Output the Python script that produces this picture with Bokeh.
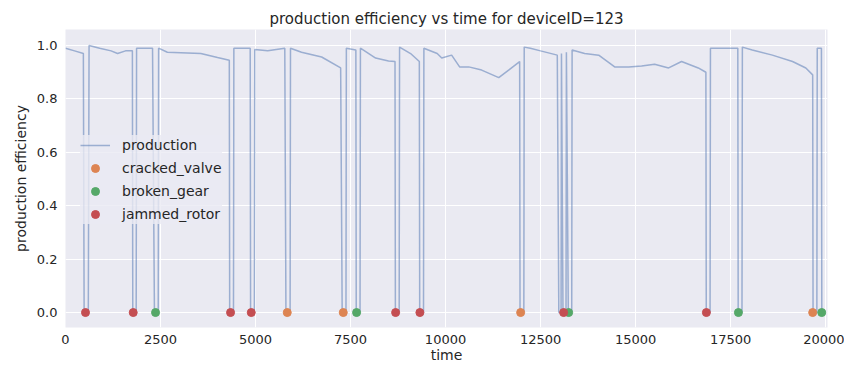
from bokeh.plotting import figure
from bokeh.models import Range1d, FixedTicker, PrintfTickFormatter, Legend, LegendItem
from bokeh.embed import file_html
from bokeh.resources import INLINE

# ---- data ----
prod_time = [
    0, 240, 470, 490, 600, 620, 900, 1200, 1370, 1580, 1760, 1770, 1860, 1870,
    2290, 2340, 2440, 2450, 2680, 3560, 4000, 4310, 4320, 4420, 4430, 4860,
    4870, 4970, 4980, 5320, 5770, 5800, 5910, 5920, 6210, 6740, 7240, 7280,
    7380, 7390, 7640, 7650, 7750, 7760, 8160, 8500, 8670, 8680, 8780, 8790,
    9080, 9310, 9320, 9420, 9430, 9780, 9900, 10160, 10370, 10610, 10950,
    11400, 11660, 11950, 11960, 12060, 12070, 12230, 12500, 12940, 12980,
    13040, 13050, 13090, 13170, 13180, 13230, 13320, 13330, 13660, 14030,
    14450, 14820, 15160, 15500, 15870, 16210, 16650, 16850, 16860, 16960,
    16970, 17620, 17690, 17700, 17800, 17810, 18070, 18600, 19130, 19480,
    19660, 19670, 19770, 19780, 19890, 19900, 20000,
]
prod_value = [
    0.99, 0.98, 0.97, 0.0, 0.0, 1.00, 0.99, 0.98, 0.97, 0.98, 0.98, 0.0, 0.0, 0.99,
    0.99, 0.0, 0.0, 0.99, 0.975, 0.97, 0.955, 0.945, 0.0, 0.0, 0.99, 0.99,
    0.0, 0.0, 0.985, 0.98, 0.99, 0.0, 0.0, 0.99, 0.975, 0.957, 0.916, 0.0,
    0.0, 0.99, 0.983, 0.0, 0.0, 0.99, 0.953, 0.942, 0.94, 0.0, 0.0, 0.994,
    0.97, 0.94, 0.0, 0.0, 0.99, 0.97, 0.953, 0.964, 0.92, 0.92, 0.908,
    0.88, 0.908, 0.94, 0.0, 0.0, 0.994, 0.99, 0.98, 0.964, 0.0,
    0.0, 0.97, 0.0, 0.0, 0.975, 0.0, 0.0, 0.983, 0.97, 0.964,
    0.92, 0.92, 0.923, 0.93, 0.916, 0.94, 0.916, 0.90, 0.0, 0.0,
    0.99, 0.99, 0.99, 0.0, 0.0, 0.994, 0.983, 0.964, 0.94, 0.916,
    0.89, 0.0, 0.0, 0.99, 0.99, 0.0, 0.0,
]

cracked_valve_time = [5835, 7309, 11976, 19660]
cracked_valve_value = [0, 0, 0, 0]
broken_gear_time = [2369, 7659, 13239, 17706, 19898]
broken_gear_value = [0, 0, 0, 0, 0]
jammed_rotor_time = [526, 1782, 4343, 4888, 8686, 9325, 13107, 16863]
jammed_rotor_value = [0, 0, 0, 0, 0, 0, 0, 0]

x_ticks = [0, 2500, 5000, 7500, 10000, 12500, 15000, 17500, 20000]
y_ticks = [0.0, 0.2, 0.4, 0.6, 0.8, 1.0]

title_text = "production efficiency vs time for deviceID=123"
x_label = "time"
y_label = "production efficiency"

# ---- figure ----
FONT = "DejaVu Sans"
TXT = "#262626"

p = figure(width=844, height=365, output_backend="svg", toolbar_location=None,
           x_range=Range1d(0, 20050), y_range=Range1d(-0.056, 1.06),
           min_border_left=65, min_border_right=17, min_border_top=29,
           min_border_bottom=37)

p.background_fill_color = "#EAEAF2"
p.border_fill_color = "white"
p.outline_line_color = None

p.title.text = title_text
p.title.align = "center"
p.title.text_font = FONT
p.title.text_font_size = "15px"
p.title.text_font_style = "normal"
p.title.text_color = TXT
p.title.standoff = 4

for ax in (p.xaxis[0], p.yaxis[0]):
    ax.axis_line_color = None
    ax.major_tick_line_color = None
    ax.minor_tick_line_color = None
    ax.major_tick_out = 0
    ax.major_tick_in = 0
    ax.major_label_text_font = FONT
    ax.major_label_text_font_size = "13px"
    ax.major_label_text_color = TXT
    ax.axis_label_text_font = FONT
    ax.axis_label_text_font_size = "14px"
    ax.axis_label_text_font_style = "normal"
    ax.axis_label_text_color = TXT

p.xaxis[0].ticker = FixedTicker(ticks=x_ticks)
p.xaxis[0].formatter = PrintfTickFormatter(format="%d")
p.xaxis[0].axis_label = x_label
p.xaxis[0].major_label_standoff = 7
p.xaxis[0].axis_label_standoff = 0

p.yaxis[0].ticker = FixedTicker(ticks=y_ticks)
p.yaxis[0].formatter = PrintfTickFormatter(format="%.1f")
p.yaxis[0].axis_label = y_label
p.yaxis[0].major_label_standoff = 8
p.yaxis[0].axis_label_standoff = 5

p.xgrid.grid_line_color = "white"
p.ygrid.grid_line_color = "white"
p.xgrid.grid_line_width = 1
p.ygrid.grid_line_width = 1

r_prod = p.line(prod_time, prod_value, line_color="#4C72B0", line_width=1.5,
                line_alpha=0.5)
r_cv = p.scatter(cracked_valve_time, cracked_valve_value, size=8,
                 fill_color="#DD8452", line_color="#DD8452")
r_bg = p.scatter(broken_gear_time, broken_gear_value, size=8,
                 fill_color="#55A868", line_color="#55A868")
r_jr = p.scatter(jammed_rotor_time, jammed_rotor_value, size=8,
                 fill_color="#C44E52", line_color="#C44E52")

legend = Legend(items=[
    LegendItem(label="production", renderers=[r_prod]),
    LegendItem(label="cracked_valve", renderers=[r_cv]),
    LegendItem(label="broken_gear", renderers=[r_bg]),
    LegendItem(label="jammed_rotor", renderers=[r_jr]),
], location=(15, 103))
legend.background_fill_color = "#EAEAF2"
legend.background_fill_alpha = 0.8
legend.border_line_color = None
legend.label_text_font = FONT
legend.label_text_font_size = "14px"
legend.label_text_color = TXT
legend.glyph_width = 30
legend.glyph_height = 20
legend.label_height = 20
legend.spacing = 3
legend.padding = 8
legend.label_standoff = 12
legend.margin = 0
p.add_layout(legend, "center")

open("out.html", "w").write(file_html(p, INLINE))
